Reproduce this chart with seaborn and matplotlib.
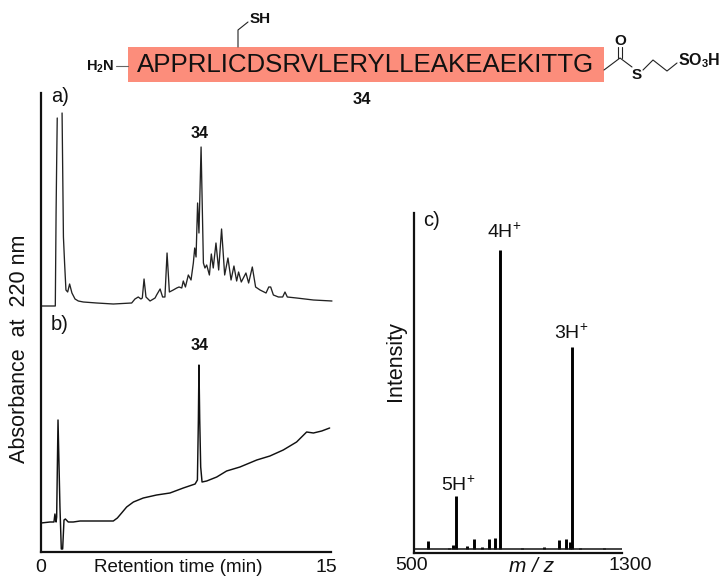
import numpy as np
import pandas as pd
import matplotlib
matplotlib.use("Agg")
import matplotlib.pyplot as plt
from matplotlib.lines import Line2D
from matplotlib.patches import Rectangle
import seaborn as sns

sequence = "APPRLICDSRVLERYLLEAKEAEKITTG"

time_a1 = [0.03,0.74,0.78,0.81,0.84]
abs_a1 = [246,246,339,389,434]
time_a2 = [1.09,1.16,1.22,1.29,1.38,1.48,1.60,1.76,1.93,2.19,2.88,3.74,4.69,4.86,5.03,5.17,5.24,5.33,5.43,5.64,5.90,5.98,6.16,6.29,6.41,6.52,6.64,6.84,7.02,7.14,7.28,7.36,7.47,7.62,7.76,7.88,7.95,8.02,8.10,8.17,8.28,8.40,8.48,8.57,8.71,8.81,8.91,9.05,9.19,9.34,9.50,9.67,9.83,9.98,10.12,10.22,10.36,10.60,10.74,10.93,11.10,11.33,11.64,11.78,11.88,12.02,12.28,12.50,12.62,12.74,13.22,14.09,15.05]
abs_a2 = [439,315,289,262,260,268,259,253,251,250,249,248,249,253,255,253,254,273,255,251,254,257,263,255,255,299,260,262,264,265,264,271,265,277,272,289,304,295,349,319,405,289,284,287,277,298,284,309,282,323,277,294,272,286,271,280,270,279,269,285,265,262,259,265,265,257,255,255,260,255,254,252,251]

time_b = [0,0.47,0.67,0.72,0.78,0.81,0.88,0.98,1.05,1.12,1.19,1.26,1.41,1.67,2.02,2.53,3.22,3.74,3.95,4.17,4.43,4.78,5.29,5.98,6.67,7.36,7.97,8.09,8.14,8.17,8.21,8.26,8.33,8.57,9.09,9.60,10.29,11.16,11.84,12.53,13.22,13.74,14.09,14.52,14.93]
abs_b = [29,30,30,38,30,35,132,45,3,3,32,33,30,30,31,31,31,31,34,39,45,50,54,57,59,64,68,72,132,187,132,85,70,71,75,81,85,92,96,102,110,120,119,121,124]

mz_peaks = [553,633,649,662,704,732,762,790,812,832,915,999,1056,1083,1099,1109,1140,1232]
int_peaks = [12,5,8,56.5,6.5,14,6,13.5,15,303,5,6,13,14,11,206,5,5]
mz_baseline = [500,1300]
int_baseline = [3.2,3.2]

W, H = 721, 578
sns.set_theme(style="white")
plt.rcParams["font.family"] = ["Liberation Sans", "DejaVu Sans"]
plt.rcParams["mathtext.fontset"] = "custom"
plt.rcParams["mathtext.rm"] = "Liberation Sans"
plt.rcParams["mathtext.bf"] = "Liberation Sans:bold"
plt.rcParams["mathtext.it"] = "Liberation Sans:italic"
fig = plt.figure(figsize=(W/100, H/100), dpi=100, facecolor="white")

def px_axes(x0, y0, x1, y1):
    ax = fig.add_axes([x0/W, 1-y1/H, (x1-x0)/W, (y1-y0)/H])
    ax.patch.set_alpha(0)
    for s in ("top", "right"):
        ax.spines[s].set_visible(False)
    for s in ("left", "bottom"):
        ax.spines[s].set_linewidth(1.6)
        ax.spines[s].set_color("#111111")
    return ax

def txt(x, y, s, size=13, ha="center", **kw):
    fig.text(x/W, 1-y/H, s, fontsize=size, ha=ha, va="center", color="#111111", **kw)

def bond(xs, ys, lw=0.8, color="#222222"):
    fig.add_artist(Line2D([x/W for x in xs], [1-y/H for y in ys], lw=lw, color=color))

def trace(ax, xs, ys, **kw):
    sns.lineplot(data=pd.DataFrame({"x": xs, "y": ys}), x="x", y="y", ax=ax, sort=False,
                 estimator=None, **kw)

# chromatograms
ax = px_axes(41, 93, 331, 552)
trace(ax, time_a1, abs_a1, color="#222222", lw=0.95, clip_on=False)
trace(ax, time_a2, abs_a2, color="#222222", lw=0.95, clip_on=False)
trace(ax, time_b, abs_b, color="#111111", lw=1.05, clip_on=False)
ax.set_xlim(0, 15); ax.set_ylim(0, 459)
ax.set_xlabel(""); ax.set_ylabel("")
ax.set_xticks([]); ax.set_yticks([])

# mass spectrum
ax2 = px_axes(414, 213, 622, 552.5)
for m, i in zip(mz_peaks, int_peaks):
    trace(ax2, [m, m], [int_baseline[0], i], color="black", lw=2.1, solid_capstyle="butt")
trace(ax2, mz_baseline, int_baseline, color="#111111", lw=1.1)
ax2.set_xlim(500, 1300); ax2.set_ylim(0, 339.5)
ax2.set_xlabel(""); ax2.set_ylabel("")
ax2.set_xticks([]); ax2.set_yticks([])

# peptide scheme
fig.add_artist(Rectangle((128/W, 1-82/H), 476/W, 35/H, transform=fig.transFigure,
                         facecolor="#FC8D7B", edgecolor="none"))
txt(366, 65, sequence, size=18.6)
txt(100, 66.5, r"$\mathbf{H_2N}$", size=10.5)
bond([116, 128], [66, 66], color="#666666")
bond([238, 238, 248], [47, 30, 22])
txt(260.5, 19, "SH", size=11, fontweight="bold")
bond([604, 620, 632], [70, 58, 67])
bond([618, 618], [58, 47]); bond([622, 622], [58, 47])
txt(620, 41, "O", size=11, fontweight="bold")
txt(637, 75, "S", size=11, fontweight="bold")
bond([643, 653, 667, 677], [70, 60, 71, 63])
txt(699, 61, r"$\mathbf{SO_3H}$", size=11.5)
txt(362, 99, "34", size=12, fontweight="bold")

# panel text
txt(60, 97, "a)", size=14.5)
txt(60, 324, "b)", size=14.5)
txt(432, 221, "c)", size=14.5)
txt(200, 133, "34", size=11.5, fontweight="bold")
txt(200, 345, "34", size=11.5, fontweight="bold")
fig.text(20/W, 1-349/H, "Absorbance  at  220 nm", fontsize=15.5, rotation=90, ha="center", va="center", color="#111111")
fig.text(396/W, 1-361/H, "Intensity", fontsize=15.5, rotation=90, ha="center", va="center", color="#111111")
txt(41, 567, "0", size=14)
txt(326, 567, "15", size=14)
txt(178, 568, "Retention time (min)", size=13.5)
txt(412, 566, "500", size=14)
txt(630, 566, "1300", size=14)
txt(532, 567, "m / z", size=15, style="italic")
txt(504, 232, r"4H$^{+}$", size=14)
txt(571, 333, r"3H$^{+}$", size=14)
txt(458, 485, r"5H$^{+}$", size=14)

fig.savefig("out.png", dpi=100)
